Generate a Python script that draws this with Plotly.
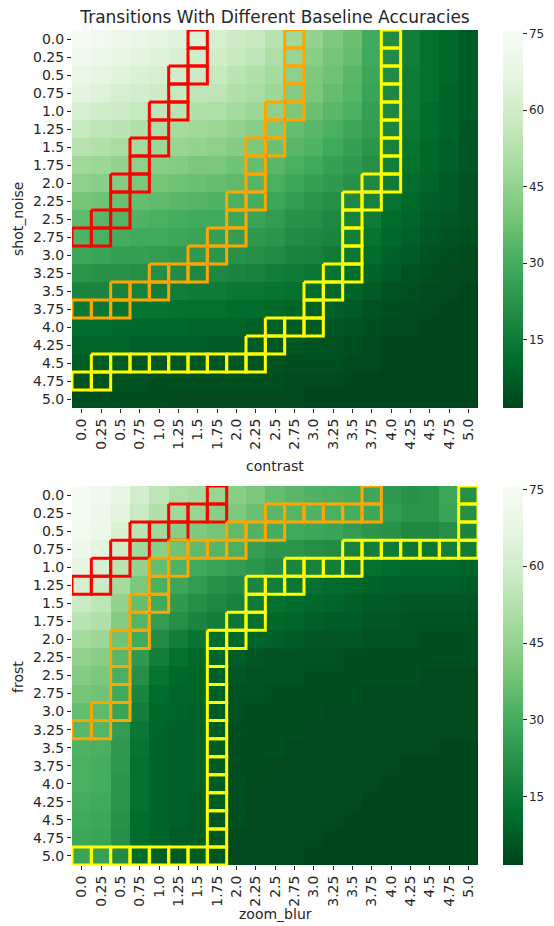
import plotly.graph_objects as go

levels = ["0.0", "0.25", "0.5", "0.75", "1.0", "1.25", "1.5", "1.75", "2.0", "2.25", "2.5",
          "2.75", "3.0", "3.25", "3.5", "3.75", "4.0", "4.25", "4.5", "4.75", "5.0"]

# top: rows = shot_noise, cols = contrast
top_z = [
    [75, 73, 71, 69, 67, 65, 63, 62, 59, 57, 53, 48, 45, 41, 37, 29, 20, 16, 12, 10, 7],
    [72, 70, 68, 66, 64, 62, 60, 60, 57, 55, 51, 46, 43, 39, 36, 29, 20, 16, 12, 10, 7],
    [69, 67, 65, 63, 62, 60, 58, 57, 54, 52, 49, 44, 41, 38, 34, 28, 20, 15, 12, 10, 7],
    [66, 64, 62, 61, 59, 57, 55, 55, 52, 50, 47, 42, 40, 36, 33, 27, 19, 15, 12, 9, 7],
    [62, 60, 59, 57, 55, 54, 52, 51, 49, 47, 44, 40, 37, 34, 31, 26, 19, 15, 11, 9, 7],
    [57, 55, 54, 52, 51, 49, 48, 47, 45, 43, 40, 36, 34, 31, 28, 25, 18, 14, 11, 9, 6],
    [53, 52, 50, 49, 47, 46, 45, 44, 42, 40, 37, 34, 32, 29, 26, 23, 17, 13, 10, 8, 6],
    [48, 47, 45, 44, 43, 42, 40, 40, 38, 36, 34, 31, 29, 26, 24, 21, 16, 12, 10, 8, 6],
    [44, 43, 42, 40, 39, 38, 37, 36, 35, 33, 31, 28, 26, 24, 22, 19, 15, 11, 9, 7, 5],
    [39, 38, 37, 36, 35, 34, 33, 32, 31, 30, 28, 25, 23, 21, 19, 17, 13, 10, 8, 7, 5],
    [35, 34, 33, 32, 31, 30, 29, 29, 28, 27, 25, 22, 21, 19, 17, 15, 11, 9, 7, 6, 5],
    [32, 31, 30, 29, 29, 28, 27, 26, 25, 24, 23, 20, 19, 18, 16, 13, 10, 8, 6, 5, 4],
    [28, 27, 26, 26, 25, 24, 24, 23, 22, 21, 20, 18, 17, 15, 14, 11, 8, 7, 5, 4, 3],
    [23, 22, 22, 21, 21, 20, 19, 19, 18, 17, 16, 15, 14, 13, 11, 9, 7, 5, 4, 3, 3],
    [18, 18, 17, 17, 16, 16, 15, 15, 14, 14, 13, 12, 11, 10, 9, 7, 5, 4, 3, 3, 2],
    [14, 14, 13, 13, 13, 12, 12, 12, 11, 11, 10, 9, 8, 8, 7, 5, 4, 3, 3, 2, 2],
    [11, 11, 10, 10, 10, 10, 9, 9, 9, 8, 8, 7, 7, 6, 5, 4, 3, 3, 2, 2, 2],
    [9, 9, 9, 8, 8, 8, 8, 7, 7, 7, 6, 6, 5, 5, 4, 3, 2, 2, 2, 2, 2],
    [7, 7, 7, 6, 6, 6, 6, 6, 6, 5, 5, 4, 4, 4, 3, 3, 2, 2, 2, 2, 2],
    [5, 5, 5, 5, 4, 4, 4, 4, 4, 4, 4, 3, 3, 3, 2, 2, 2, 2, 2, 2, 2],
    [4, 4, 4, 4, 4, 3, 3, 3, 3, 3, 3, 3, 2, 2, 2, 2, 2, 2, 2, 2, 2],
]

# bottom: rows = frost, cols = zoom_blur
bottom_z = [
    [75, 72, 68, 61, 55, 51, 49, 46, 43, 40, 36, 34, 32, 31, 30, 28, 24, 22, 23, 28, 21],
    [74, 71, 66, 58, 52, 48, 46, 43, 41, 37, 34, 33, 32, 31, 30, 28, 25, 23, 23, 27, 21],
    [73, 70, 63, 54, 48, 43, 41, 39, 35, 32, 30, 29, 28, 27, 25, 23, 22, 19, 19, 21, 18],
    [71, 66, 60, 48, 43, 38, 35, 33, 31, 26, 23, 23, 21, 20, 17, 16, 15, 14, 14, 16, 15],
    [67, 62, 54, 45, 36, 32, 29, 27, 25, 23, 20, 18, 17, 16, 14, 12, 11, 10, 10, 10, 9],
    [62, 58, 49, 40, 31, 28, 25, 22, 20, 18, 16, 14, 12, 11, 10, 9, 8, 8, 8, 8, 7],
    [58, 55, 45, 36, 29, 24, 21, 19, 17, 15, 12, 11, 10, 9, 8, 7, 7, 6, 6, 6, 6],
    [54, 52, 42, 33, 25, 21, 18, 16, 14, 12, 10, 9, 8, 7, 7, 6, 6, 5, 5, 5, 5],
    [49, 47, 38, 29, 20, 16, 13, 11, 10, 9, 8, 7, 6, 6, 6, 5, 5, 5, 4, 4, 4],
    [45, 43, 34, 24, 16, 12, 10, 9, 7, 6, 5, 5, 5, 5, 4, 4, 4, 4, 4, 4, 4],
    [42, 40, 31, 21, 13, 10, 9, 8, 6, 5, 5, 5, 4, 4, 4, 4, 4, 4, 3, 3, 3],
    [39, 38, 29, 18, 11, 9, 9, 8, 5, 5, 4, 4, 4, 4, 4, 3, 3, 3, 3, 3, 3],
    [36, 35, 27, 16, 10, 9, 8, 7, 5, 4, 4, 4, 4, 3, 3, 3, 3, 3, 3, 3, 3],
    [34, 33, 25, 14, 9, 8, 8, 7, 4, 4, 4, 4, 3, 3, 3, 3, 3, 3, 3, 3, 3],
    [32, 31, 24, 13, 9, 8, 8, 7, 4, 4, 4, 3, 3, 3, 3, 3, 3, 3, 3, 2, 2],
    [31, 30, 24, 12, 9, 8, 8, 7, 4, 4, 3, 3, 3, 3, 3, 3, 3, 2, 2, 2, 2],
    [31, 30, 23, 12, 9, 8, 8, 7, 4, 3, 3, 3, 3, 3, 3, 3, 2, 2, 2, 2, 2],
    [30, 29, 23, 12, 9, 8, 7, 7, 4, 3, 3, 3, 3, 3, 3, 2, 2, 2, 2, 2, 2],
    [29, 28, 22, 11, 9, 8, 7, 6, 4, 3, 3, 3, 3, 3, 2, 2, 2, 2, 2, 2, 2],
    [28, 27, 21, 11, 9, 7, 7, 6, 3, 3, 3, 3, 3, 2, 2, 2, 2, 2, 2, 2, 2],
    [27, 26, 20, 11, 8, 7, 7, 6, 3, 3, 3, 3, 2, 2, 2, 2, 2, 2, 2, 2, 2],
]

# outlined cells: (row index, column index)
top_red = [(0, 6), (1, 6), (2, 5), (2, 6), (3, 5), (4, 4), (4, 5), (5, 4), (6, 3), (6, 4),
           (7, 3), (8, 2), (8, 3), (9, 2), (10, 1), (10, 2), (11, 0), (11, 1)]
top_orange = [(0, 11), (1, 11), (2, 11), (3, 11), (4, 10), (4, 11), (5, 10), (6, 9), (6, 10),
              (7, 9), (8, 9), (9, 8), (9, 9), (10, 8), (11, 7), (11, 8), (12, 6), (12, 7),
              (13, 4), (13, 5), (13, 6), (14, 2), (14, 3), (14, 4), (15, 0), (15, 1), (15, 2)]
top_yellow = [(0, 16), (1, 16), (2, 16), (3, 16), (4, 16), (5, 16), (6, 16), (7, 16),
              (8, 15), (8, 16), (9, 14), (9, 15), (10, 14), (11, 14), (12, 14), (13, 13),
              (13, 14), (14, 12), (14, 13), (15, 12), (16, 10), (16, 11), (16, 12), (17, 9),
              (17, 10), (18, 1), (18, 2), (18, 3), (18, 4), (18, 5), (18, 6), (18, 7), (18, 8),
              (18, 9), (19, 0), (19, 1)]

bot_red = [(0, 7), (1, 5), (1, 6), (1, 7), (2, 3), (2, 4), (2, 5), (3, 2), (3, 3), (4, 1),
           (4, 2), (5, 0), (5, 1)]
bot_orange = [(0, 15), (1, 10), (1, 11), (1, 12), (1, 13), (1, 14), (1, 15), (2, 8), (2, 9),
              (2, 10), (3, 5), (3, 6), (3, 7), (3, 8), (4, 4), (4, 5), (5, 4), (6, 3), (6, 4),
              (7, 3), (8, 2), (8, 3), (9, 2), (10, 2), (11, 2), (12, 1), (12, 2), (13, 0), (13, 1)]
bot_yellow = [(0, 20), (1, 20), (2, 20), (3, 14), (3, 15), (3, 16), (3, 17), (3, 18), (3, 19),
              (3, 20), (4, 11), (4, 12), (4, 13), (4, 14), (5, 9), (5, 10), (5, 11), (6, 9),
              (7, 8), (7, 9), (8, 7), (8, 8), (9, 7), (10, 7), (11, 7), (12, 7), (13, 7),
              (14, 7), (15, 7), (16, 7), (17, 7), (18, 7), (19, 7), (20, 0), (20, 1), (20, 2),
              (20, 3), (20, 4), (20, 5), (20, 6), (20, 7)]

greens_r = [[0.0, "#00441b"], [0.125, "#006d2c"], [0.25, "#238b45"], [0.375, "#41ab5d"],
            [0.5, "#74c476"], [0.625, "#a1d99b"], [0.75, "#c7e9c0"], [0.875, "#e5f5e0"],
            [1.0, "#f7fcf5"]]

ZMIN, ZMAX = 1.6, 75.7
FONT = "DejaVu Sans"
TXT = "#262626"
idx = list(range(len(levels)))

# the page body adds an 8px offset; the figure is sized to fit inside the window
W, H, OFF = 554 - 8, 926 - 8, 8


def boxes(cells):
    xs, ys = [], []
    for r, c in cells:
        xs += [c - 0.5, c + 0.5, c + 0.5, c - 0.5, c - 0.5, None]
        ys += [r - 0.5, r - 0.5, r + 0.5, r + 0.5, r - 0.5, None]
    return xs, ys


def cbar(ytop, length):
    return dict(x=1.0616, xanchor="left", y=ytop, yanchor="top", len=length, lenmode="pixels",
                thickness=20, xpad=0, ypad=0, outlinewidth=0, tickvals=[15, 30, 45, 60, 75],
                ticks="outside", ticklen=4, tickcolor=TXT,
                tickfont=dict(family=FONT, size=12, color=TXT))


fig = go.Figure()
fig.add_trace(go.Heatmap(z=top_z, x=idx, y=idx, colorscale=greens_r, zmin=ZMIN, zmax=ZMAX,
                         colorbar=cbar(1.0, 378), xaxis="x", yaxis="y", hoverinfo="skip"))
fig.add_trace(go.Heatmap(z=bottom_z, x=idx, y=idx, colorscale=greens_r, zmin=ZMIN, zmax=ZMAX,
                         colorbar=cbar(0.4539, 379), xaxis="x2", yaxis="y2", hoverinfo="skip"))

for cells, col, xa, ya in [(top_red, "#ff0000", "x", "y"), (top_orange, "#ffa500", "x", "y"),
                           (top_yellow, "#ffff00", "x", "y"), (bot_red, "#ff0000", "x2", "y2"),
                           (bot_orange, "#ffa500", "x2", "y2"), (bot_yellow, "#ffff00", "x2", "y2")]:
    xs, ys = boxes(cells)
    fig.add_trace(go.Scatter(x=xs, y=ys, mode="lines", line=dict(color=col, width=3),
                             xaxis=xa, yaxis=ya, showlegend=False, hoverinfo="skip"))

axcommon = dict(tickvals=idx, ticktext=levels, ticks="outside", ticklen=4, tickwidth=1,
                tickcolor=TXT, showgrid=False, zeroline=False, showline=False,
                tickfont=dict(family=FONT, size=14, color=TXT))

fig.update_layout(
    width=W, height=H,
    margin=dict(l=72 - OFF, r=76, t=30 - OFF, b=61, autoexpand=False),
    paper_bgcolor="white", plot_bgcolor="white",
    showlegend=False,
    title=dict(text="Transitions With Different Baseline Accuracies", x=0.5, xref="paper",
               xanchor="center", y=1.0, yanchor="top", pad=dict(t=3, b=0),
               font=dict(family=FONT, size=17, color=TXT)),
    xaxis=dict(domain=[0, 1], anchor="y", range=[-0.5, 20.5], tickangle=-90, **axcommon),
    yaxis=dict(domain=[0.5473, 1], anchor="x", range=[20.5, -0.5], **axcommon),
    xaxis2=dict(domain=[0, 1], anchor="y2", range=[-0.5, 20.5], tickangle=-90, **axcommon),
    yaxis2=dict(domain=[0, 0.4539], anchor="x2", range=[20.5, -0.5], **axcommon),
)

labels = [
    ("contrast", 0.5, (865 - 466) / 835, 0),
    ("zoom_blur", 0.5, (865 - 914) / 835, 0),
    ("shot_noise", (18 - 72) / 406, (865 - 219) / 835, -90),
    ("frost", (18 - 72) / 406, (865 - 677) / 835, -90),
]
for text, ax, ay, ang in labels:
    fig.add_annotation(text=text, x=ax, y=ay, xref="paper", yref="paper", showarrow=False,
                       xanchor="center", yanchor="middle", textangle=ang,
                       font=dict(family=FONT, size=14, color=TXT))

fig.write_html("out.html")
